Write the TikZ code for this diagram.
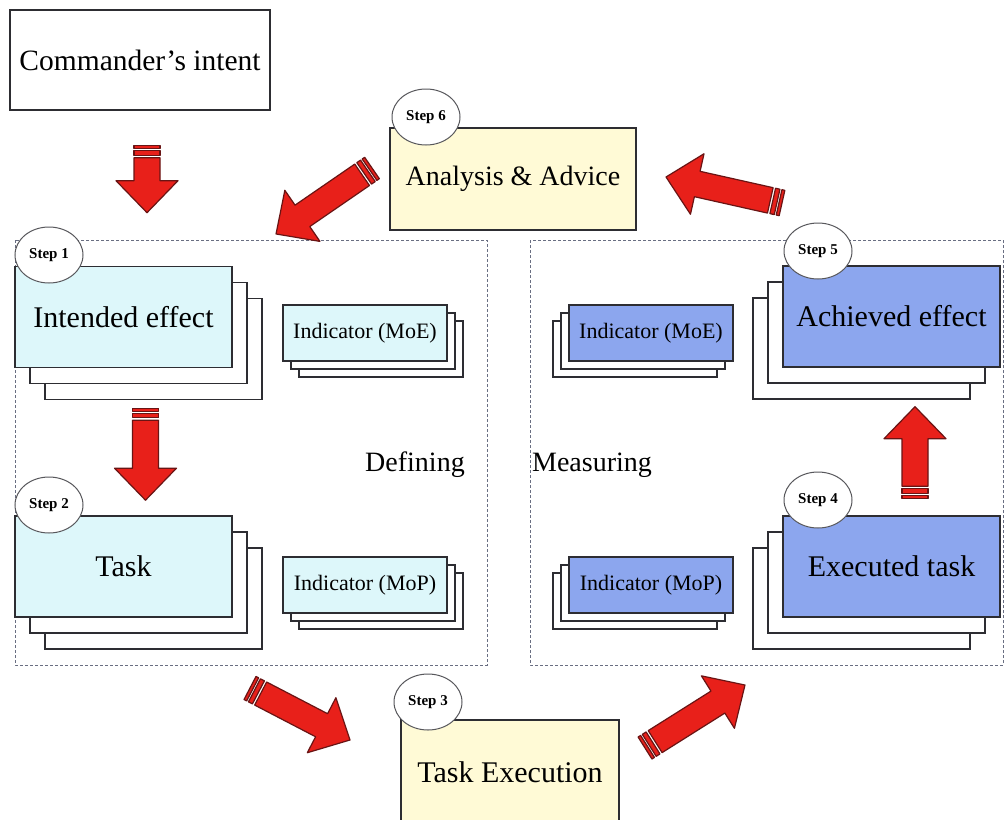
\documentclass[tikz,border=0pt]{standalone}
\usepackage{fontspec}
\setmainfont{Liberation Serif}
\usetikzlibrary{shapes.geometric,calc}

\definecolor{boxline}{RGB}{45,45,50}
\definecolor{paleCyan}{RGB}{221,247,250}
\definecolor{paleBlue}{RGB}{140,166,238}
\definecolor{paleYellow}{RGB}{255,250,214}
\definecolor{dashgray}{RGB}{105,110,130}
\definecolor{arrowred}{RGB}{232,32,26}
\definecolor{arrowedge}{RGB}{105,20,20}

\tikzset{
  card/.style={draw=boxline, line width=1.4pt, inner sep=0pt},
  bigcard/.style={card, minimum width=217pt, minimum height=101pt, font=\fontsize{30}{34}\selectfont},
  smallcard/.style={card, minimum width=164pt, minimum height=56pt, font=\fontsize{22}{26}\selectfont},
  stepmark/.style={ellipse, draw=boxline!80, fill=white, line width=1pt, minimum width=68pt,
    minimum height=56pt, inner sep=0pt, font=\bfseries\fontsize{15}{17}\selectfont},
  region/.style={draw=dashgray, dash pattern=on 3pt off 2pt, line width=0.9pt},
  bigtext/.style={font=\fontsize{28}{32}\selectfont},
  arrowbody/.style={fill=arrowred, draw=arrowedge, line width=1.2pt, line join=round},
}

% a pile of three cards: two blank ones behind, the labelled one in front
\newcommand\cardstack[6]{%
  \node[#5, fill=white] (#1-b2) at ($(#2)+(2*#3,2*#4)$) {};
  \node[#5, fill=white] (#1-b1) at ($(#2)+(#3,#4)$) {};
  \node[#5] (#1) at (#2) {#6};
}

% thick block arrow with striped tail, from coordinate #1 to coordinate #2
\newcommand\blockarrow[2]{%
  \path let \p1=($(#2)-(#1)$) in
    \pgfextra{\pgfmathsetmacro\tmpang{atan2(\y1,\x1)}\pgfmathsetmacro\tmplen{veclen(\x1,\y1)}%
      \xdef\barang{\tmpang}\xdef\barlen{\tmplen}};
  \begin{scope}[shift={(#1)}, rotate=\barang]
    \draw[arrowbody] (0,-13) rectangle (3,13);
    \draw[arrowbody] (5,-13) rectangle (9.5,13);
    \draw[arrowbody] (12,-13) -- ({\barlen-32},-13) -- ({\barlen-32},-31)
      -- (\barlen,0) -- ({\barlen-32},31) -- ({\barlen-32},13) -- (12,13) -- cycle;
  \end{scope}
}

\begin{document}
\begin{tikzpicture}[x=1pt, y=-1pt]
  \clip (0,0) rectangle (1006,819);
  \fill[white] (0,0) rectangle (1006,819);

  % dashed working areas
  \draw[region] (15,240) rectangle (487,665);
  \draw[region] (530,240) rectangle (1003,665);

  % top boxes
  \node[card, fill=white, minimum width=260pt, minimum height=100pt,
        font=\fontsize{29.5}{34}\selectfont] (cmd) at (140,60) {Commander’s intent};
  \node[card, fill=paleYellow, minimum width=246pt, minimum height=102pt, bigtext] (ana) at (513,179) {Analysis \& Advice};
  \node[card, fill=paleYellow, minimum width=218pt, minimum height=104pt,
        font=\fontsize{30}{34}\selectfont] (exe) at (510,772) {Task Execution};

  % defining side
  \cardstack{ie}{123.5,317}{15}{16}{bigcard, fill=paleCyan}{Intended effect}
  \cardstack{task}{123.5,566.5}{15}{16}{bigcard, fill=paleCyan}{Task}
  \cardstack{moeL}{365,333}{8}{8}{smallcard, fill=paleCyan}{Indicator (MoE)}
  \cardstack{mopL}{365,585}{8}{8}{smallcard, fill=paleCyan}{Indicator (MoP)}

  % measuring side
  \cardstack{ach}{891.5,316.5}{-15}{16}{bigcard, fill=paleBlue}{Achieved effect}
  \cardstack{ext}{891.5,566.5}{-15}{16}{bigcard, fill=paleBlue}{Executed task}
  \cardstack{moeR}{651,333}{-8}{8}{smallcard, fill=paleBlue}{Indicator (MoE)}
  \cardstack{mopR}{651,585}{-8}{8}{smallcard, fill=paleBlue}{Indicator (MoP)}

  \node[bigtext] (def) at (415,465) {Defining};
  \node[bigtext] (mea) at (592,465) {Measuring};

  % step markers
  \node[stepmark] (s1) at (49,255) {Step 1};
  \node[stepmark] (s2) at (49,505) {Step 2};
  \node[stepmark] (s3) at (428,702) {Step 3};
  \node[stepmark] (s4) at (818,500) {Step 4};
  \node[stepmark] (s5) at (818,251) {Step 5};
  \node[stepmark] (s6) at (426,117) {Step 6};

  % arrow ends
  \coordinate (a1t) at ($(cmd.south)+(7,35)$);
  \coordinate (a1h) at ($(cmd.south)+(7,102)$);
  \coordinate (a2t) at ($(ie-b2.south)+(-8,8)$);
  \coordinate (a2h) at ($(ie-b2.south)+(-8,100)$);
  \coordinate (a3t) at (250,688);
  \coordinate (a3h) at (350,740);
  \coordinate (a4t) at (645,748);
  \coordinate (a4h) at (745,685);
  \coordinate (a5t) at ($(ext.north)+(23.5,-17)$);
  \coordinate (a5h) at ($(ach-b2.south)+(53.5,7)$);
  \coordinate (a6t) at (782,203);
  \coordinate (a6h) at (666,177);
  \coordinate (a7t) at (372,168);
  \coordinate (a7h) at (276,234);

  \blockarrow{a1t}{a1h}
  \blockarrow{a2t}{a2h}
  \blockarrow{a3t}{a3h}
  \blockarrow{a4t}{a4h}
  \blockarrow{a5t}{a5h}
  \blockarrow{a6t}{a6h}
  \blockarrow{a7t}{a7h}
\end{tikzpicture}
\end{document}
